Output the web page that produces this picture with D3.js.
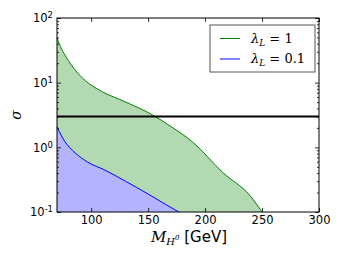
<!DOCTYPE html>
<html>
<head>
<meta charset="utf-8">
<script src="https://cdn.jsdelivr.net/npm/d3@7"></script>
<style>
  body { margin: 0; background: #fff; }
  .axis text { font-family: "DejaVu Sans", sans-serif; font-size: 11.5px; fill: #000; }
  .axis line { stroke: #000; stroke-width: 0.8; }
  .axis path { display: none; }
  .math { font-family: "DejaVu Serif", serif; font-style: italic; }
</style>
</head>
<body>
<div id="chart"></div>
<script>
// sigma curves: [mass in GeV, sigma]
var lambda1 = [[70, 50], [72, 40], [80, 22], [90, 13], [110, 7.2], [125, 5.5], [142, 4.05], [154, 3.16],
               [170, 2.1], [189, 1.21], [216, 0.40], [239, 0.183], [250, 0.1]];
var lambda01 = [[70, 2.08], [74, 1.5], [77, 1.22], [81, 1.0], [86, 0.82], [97, 0.59], [112, 0.446], [130, 0.30],
                [150, 0.19], [165, 0.132], [177, 0.1]];
var sigmaLine = 3;
var xTicks = [100, 150, 200, 250, 300];
var yTicks = [0.1, 1, 10, 100];
var legendLabels = ["1", "0.1"];

var margin = {top: 18, right: 25, bottom: 46, left: 57},
    width = 344 - margin.left - margin.right,
    height = 258 - margin.top - margin.bottom;

var x = d3.scaleLinear().domain([70, 300]).range([0, width]);
var y = d3.scaleLog().domain([0.1, 100]).range([height, 0]);

var svg = d3.select("#chart")
    .append("svg")
    .attr("width", 344)
    .attr("height", 258)
    .append("g")
    .attr("transform", "translate(" + margin.left + "," + margin.top + ")");

var area = d3.area()
    .curve(d3.curveMonotoneX)
    .x(function(d) { return x(d[0]); })
    .y0(height)
    .y1(function(d) { return y(d[1]); });

var line = d3.line()
    .curve(d3.curveMonotoneX)
    .x(function(d) { return x(d[0]); })
    .y(function(d) { return y(d[1]); });

svg.append("path").datum(lambda1).attr("d", area).attr("fill", "#b3d9b3");
svg.append("path").datum(lambda1).attr("d", line).attr("fill", "none").attr("stroke", "#008000").attr("stroke-width", 1);
svg.append("path").datum(lambda01).attr("d", area).attr("fill", "#b3b3ff");
svg.append("path").datum(lambda01).attr("d", line).attr("fill", "none").attr("stroke", "#0000ff").attr("stroke-width", 1);

svg.append("line")
    .attr("x1", 0).attr("x2", width)
    .attr("y1", y(sigmaLine)).attr("y2", y(sigmaLine))
    .attr("stroke", "#000").attr("stroke-width", 2);

// minor log ticks
var minor = y.ticks().filter(function(d) { return yTicks.indexOf(d) < 0; });

svg.append("g").attr("class", "axis")
    .call(d3.axisLeft(y).tickValues(minor).tickSize(-2).tickFormat(""));
svg.append("g").attr("class", "axis")
    .attr("transform", "translate(" + width + ",0)")
    .call(d3.axisRight(y).tickValues(minor).tickSize(-2).tickFormat(""));
svg.append("g").attr("class", "axis")
    .attr("transform", "translate(" + width + ",0)")
    .call(d3.axisRight(y).tickValues(yTicks).tickSize(-4).tickFormat(""));

var yAxis = svg.append("g").attr("class", "axis")
    .call(d3.axisLeft(y).tickValues(yTicks).tickSize(-4).tickPadding(4));
yAxis.selectAll("text").each(function(d) {
  var t = d3.select(this).text("");
  t.append("tspan").text("10");
  t.append("tspan").attr("dy", "-0.45em").style("font-size", "8.5px").text(Math.round(Math.log10(d)));
});

svg.append("g").attr("class", "axis")
    .attr("transform", "translate(0," + height + ")")
    .call(d3.axisBottom(x).tickValues(xTicks).tickSize(-4).tickPadding(4));
svg.append("g").attr("class", "axis")
    .call(d3.axisTop(x).tickValues(xTicks).tickSize(-4).tickFormat(""));

svg.append("rect")
    .attr("width", width).attr("height", height)
    .attr("fill", "none").attr("stroke", "#000").attr("stroke-width", 1);

// axis labels
svg.append("text")
    .attr("transform", "translate(-36," + (height / 2) + ") rotate(-90)")
    .attr("text-anchor", "middle")
    .attr("class", "math")
    .style("font-size", "14px")
    .text("σ");

var xl = svg.append("text")
    .attr("x", width / 2 + 1)
    .attr("y", height + 30)
    .attr("text-anchor", "middle")
    .style("font-size", "15px");
xl.append("tspan").attr("class", "math").text("M");
xl.append("tspan").attr("class", "math").attr("dy", "3").style("font-size", "10px").text("H");
xl.append("tspan").attr("class", "math").attr("dy", "-5").style("font-size", "7px").text("0");
xl.append("tspan").attr("dy", "2").style("font-family", "DejaVu Sans").text(" [GeV]");

// legend
var legend = svg.append("g").attr("transform", "translate(" + (x(300) - 109) + ",7)");
legend.append("rect")
    .attr("width", 105).attr("height", 47)
    .attr("fill", "#fff").attr("stroke", "#555").attr("stroke-width", 1);
var colors = ["#008000", "#0000ff"];
legendLabels.forEach(function(lab, i) {
  var ly = 13.5 + i * 20.5;
  legend.append("line").attr("x1", 10).attr("x2", 30).attr("y1", ly).attr("y2", ly)
      .attr("stroke", colors[i]).attr("stroke-width", 1);
  var t = legend.append("text").attr("x", 41).attr("y", ly + 4).style("font-size", "13px")
      .style("font-family", "DejaVu Serif");
  t.append("tspan").style("font-style", "italic").text("λ");
  t.append("tspan").attr("dy", "3").style("font-style", "italic").style("font-size", "9px").text("L");
  t.append("tspan").attr("dy", "-3").text(" = " + lab);
});
</script>
</body>
</html>
